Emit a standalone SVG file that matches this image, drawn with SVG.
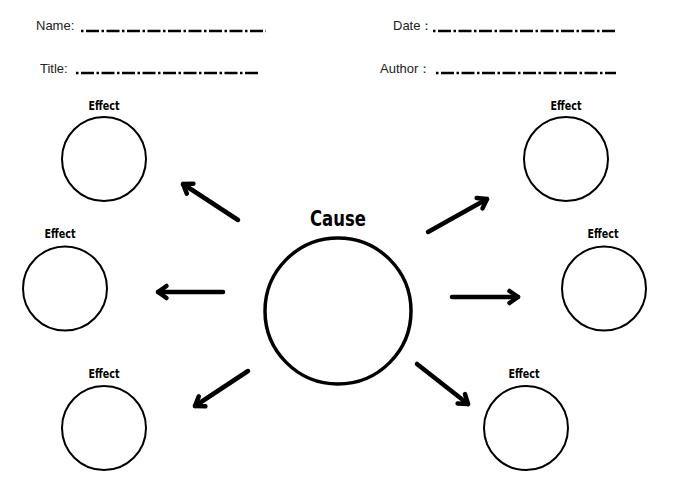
<svg xmlns="http://www.w3.org/2000/svg" width="686" height="482" viewBox="0 0 686 482">
<style>
.hdr{font-family:"Liberation Sans","Open Sans",sans-serif;font-size:13px;fill:#222}
.line{stroke:#000;stroke-width:2.5;stroke-dasharray:2.5 2.5 13 2.5;fill:none}
.eff{font-family:"DejaVu Sans","Liberation Sans",sans-serif;font-weight:bold;font-size:12px;fill:#000;text-anchor:middle}
.cause{font-family:"DejaVu Sans","Liberation Sans",sans-serif;font-weight:bold;font-size:21px;fill:#000;text-anchor:middle}
.c{fill:#fff;stroke:#000;stroke-width:2}
.cb{fill:#fff;stroke:#000;stroke-width:3.5}
.arr{stroke:#000;stroke-width:4.5;stroke-linecap:round;fill:none}
</style>
<defs>
<marker id="ah" viewBox="-5 -5 20 20" refX="8" refY="5" markerWidth="20" markerHeight="20" markerUnits="userSpaceOnUse" orient="auto" overflow="visible">
<path d="M-0.5,-1 L8,5 L-0.5,11" fill="none" stroke="#000" stroke-width="4.5" stroke-linecap="round" stroke-linejoin="round"/>
</marker>
</defs>
<rect width="686" height="482" fill="#fff"/>
<g id="header">
<text class="hdr" x="36" y="30">Name:</text>
<line class="line" x1="81" y1="31" x2="266" y2="31"/>
<text class="hdr" x="40" y="73">Title:</text>
<line class="line" x1="76" y1="73" x2="258" y2="73"/>
<text class="hdr" x="393" y="30">Date：</text>
<line class="line" x1="433" y1="31" x2="616" y2="31"/>
<text class="hdr" x="380" y="73">Author：</text>
<line class="line" x1="436" y1="73" x2="616" y2="73"/>
</g>
<g id="cause">
<text class="cause" x="338" y="226" textLength="56" lengthAdjust="spacingAndGlyphs">Cause</text>
<circle class="cb" cx="338" cy="311" r="73"/>
</g>
<g id="effect-tl">
<text class="eff" x="104" y="110" textLength="31" lengthAdjust="spacingAndGlyphs">Effect</text>
<circle class="c" cx="104" cy="159" r="42"/>
</g>
<g id="effect-ml">
<text class="eff" x="60" y="238" textLength="31" lengthAdjust="spacingAndGlyphs">Effect</text>
<circle class="c" cx="65" cy="288.5" r="42"/>
</g>
<g id="effect-bl">
<text class="eff" x="104" y="378" textLength="31" lengthAdjust="spacingAndGlyphs">Effect</text>
<circle class="c" cx="104" cy="428" r="42"/>
</g>
<g id="effect-tr">
<text class="eff" x="566" y="110" textLength="31" lengthAdjust="spacingAndGlyphs">Effect</text>
<circle class="c" cx="566" cy="159" r="42"/>
</g>
<g id="effect-mr">
<text class="eff" x="603" y="238" textLength="31" lengthAdjust="spacingAndGlyphs">Effect</text>
<circle class="c" cx="604" cy="288.5" r="42"/>
</g>
<g id="effect-br">
<text class="eff" x="524" y="378" textLength="31" lengthAdjust="spacingAndGlyphs">Effect</text>
<circle class="c" cx="526" cy="428" r="42"/>
</g>
<g id="connectors">
<line class="arr" x1="238" y1="220" x2="183" y2="184" marker-end="url(#ah)"/>
<line class="arr" x1="223" y1="292" x2="158" y2="292" marker-end="url(#ah)"/>
<line class="arr" x1="248" y1="371" x2="195" y2="406" marker-end="url(#ah)"/>
<line class="arr" x1="428" y1="232" x2="487" y2="199" marker-end="url(#ah)"/>
<line class="arr" x1="452" y1="297" x2="518" y2="297" marker-end="url(#ah)"/>
<line class="arr" x1="417" y1="364" x2="468" y2="404" marker-end="url(#ah)"/>
</g>
</svg>
